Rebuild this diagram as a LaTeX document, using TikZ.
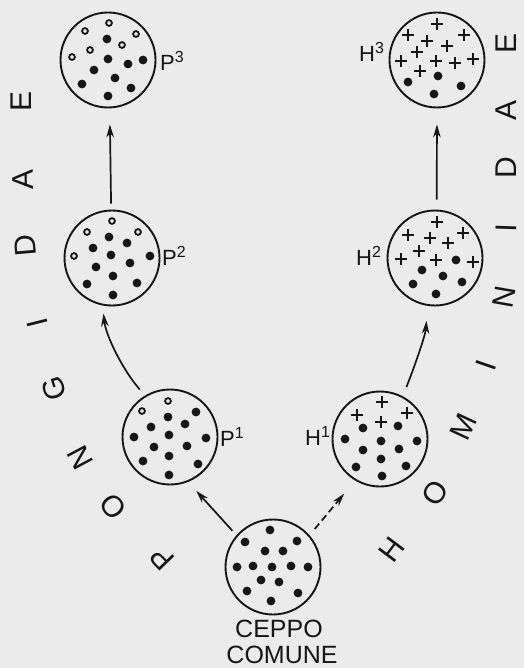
\documentclass[tikz,border=0pt]{standalone}
\usepackage{fontspec}
\setmainfont{Liberation Sans}
\usetikzlibrary{arrows.meta}
\definecolor{bg}{RGB}{235,235,235}
\definecolor{ink}{RGB}{22,22,22}
\tikzset{
 cell/.style={circle, draw=ink, line width=1.9pt, minimum size=95pt, inner sep=0pt},
 bdot/.style={fill=ink},
 odot/.style={draw=ink, line width=1.8pt},
 plus/.style={draw=ink, line width=1.7pt},
 arr/.style={draw=ink, line width=1.7pt, -{Stealth[length=13pt,width=7.5pt]}},
 lab/.style={anchor=base west, inner sep=0pt, text=ink, font=\fontsize{22}{22}\selectfont},
 big/.style={inner sep=0pt, text=ink, font=\fontsize{30}{30}\selectfont},
 capt/.style={anchor=base, inner sep=0pt, text=ink, font=\fontsize{25}{25}\selectfont},
}
\newcommand{\sxp}[1]{\raisebox{8pt}{\fontsize{16}{16}\selectfont #1}}
\begin{document}
\begin{tikzpicture}[x=1pt,y=-1pt]
\fill[bg] (0,0) rectangle (524,668);
\useasboundingbox (0,0) rectangle (524,668);

% cells
\node[cell] (P3) at (108,60) {};
\node[cell] (P2) at (112,258) {};
\node[cell] (P1) at (170,437) {};
\node[cell] (H3) at (437,60) {};
\node[cell] (H2) at (435,258) {};
\node[cell] (H1) at (380,439) {};
\node[cell] (C) at (273,567) {};

% open circles
\foreach \x/\y in {109/23,85/31,136/34,90/50,122/45,72/57,
                   112/221,87/232,138/232,74/256,
                   168/401,142/411}
  \draw[odot] (\x,\y) circle (2.9pt);

% black dots
\foreach \x/\y in {107/39,108/59,128/64,143/60,94/70,115/78,82/84,131/88,108/96,
                   109/237,127/243,93/248,111/255,150/256,96/267,130/263,113/276,87/284,137/283,113/295,
                   196/412,168/417,151/427,185/424,134/437,169/435,206/438,154/447,187/446,169/456,143/461,198/464,169/475,
                   438/76,408/82,461/86,434/94,
                   456/260,422/270,443/276,413/284,462/282,436/294,
                   363/428,398/426,345/439,381/441,417/441,363/450,399/449,381/459,356/467,406/466,382/476,
                   270/530,245/542,297/541,265/551,283/551,237/567,253/566,272/567,291/566,308/567,261/580,279/582,247/591,298/593,271/601}
  \fill[bdot] (\x,\y) circle (4.4pt);

% plus signs
\foreach \x/\y in {437/24,408/35,427/41,464/35,447/46,417/52,401/61,436/61,455/63,473/59,420/71,
                   437/222,408/235,430/238,463/233,448/243,419/251,401/259,436/260,473/262,
                   382/402,357/415,381/422,407/413}
  \draw[plus] (\x,\y) +(-6,0) -- +(6,0) +(0,-6) -- +(0,6);

% labels
\node[lab] (lP3) at (160,71) {P\sxp{3}};
\node[lab] (lP2) at (162,265) {P\sxp{2}};
\node[lab] (lP1) at (220,446) {P\sxp{1}};
\node[lab] (lH3) at (359,62) {H\sxp{3}};
\node[lab] (lH2) at (356,265) {H\sxp{2}};
\node[lab] (lH1) at (305,445) {H\sxp{1}};

\node[capt] (ceppo) at (279,637) {CEPPO};
\node[capt] (comune) at (282,663) {COMUNE};

% connectors
\draw[arr, shorten <=6pt, shorten >=16pt] (P2.91) -- (P3.272);
\draw[arr, shorten <=10pt, shorten >=16pt] (H2.88) -- (H3.270);
\draw[arr, shorten <=8pt, shorten >=8pt] (P1.121) .. controls +(-22,-25) and +(3,30) .. (P2.259);
\draw[arr, shorten <=10pt, shorten >=15pt] (H1.62.6) .. controls +(10,-25) and +(-2,30) .. (H2.261);
\draw[arr, shorten <=6pt, shorten >=12pt] (C.139.5) -- (P1.292);
\draw[arr, dash pattern=on 7pt off 4pt, shorten <=8pt, shorten >=17pt] (C.41.4) -- (H1.239.5);

% PONGIDAE
\node[big, rotate=134] (wP) at (162,558) {P};
\node[big, rotate=128] (wO) at (113,507) {O};
\node[big, rotate=118] (wN) at (80,458) {N};
\node[big, rotate=108] (wG) at (54,389) {G};
\node[big, rotate=104] (wI) at (37,323) {I};
\node[big, rotate=95] (wD) at (25,246) {D};
\node[big, rotate=91] (wA) at (23,180) {A};
\node[big, rotate=90] (wE) at (21,101) {E};

% HOMINIDAE
\node[big, rotate=53] (hH) at (392,550) {H};
\node[big, rotate=57] (hO) at (435,493) {O};
\node[big, rotate=65] (hM) at (463,427) {M};
\node[big, rotate=71] (hI) at (486,365) {I};
\node[big, rotate=80] (hN) at (504,297) {N};
\node[big, rotate=88] (hI2) at (506,228) {I};
\node[big, rotate=90] (hD) at (506,168) {D};
\node[big, rotate=90] (hA) at (506,110) {A};
\node[big, rotate=90] (hE) at (506,43) {E};
\end{tikzpicture}
\end{document}
